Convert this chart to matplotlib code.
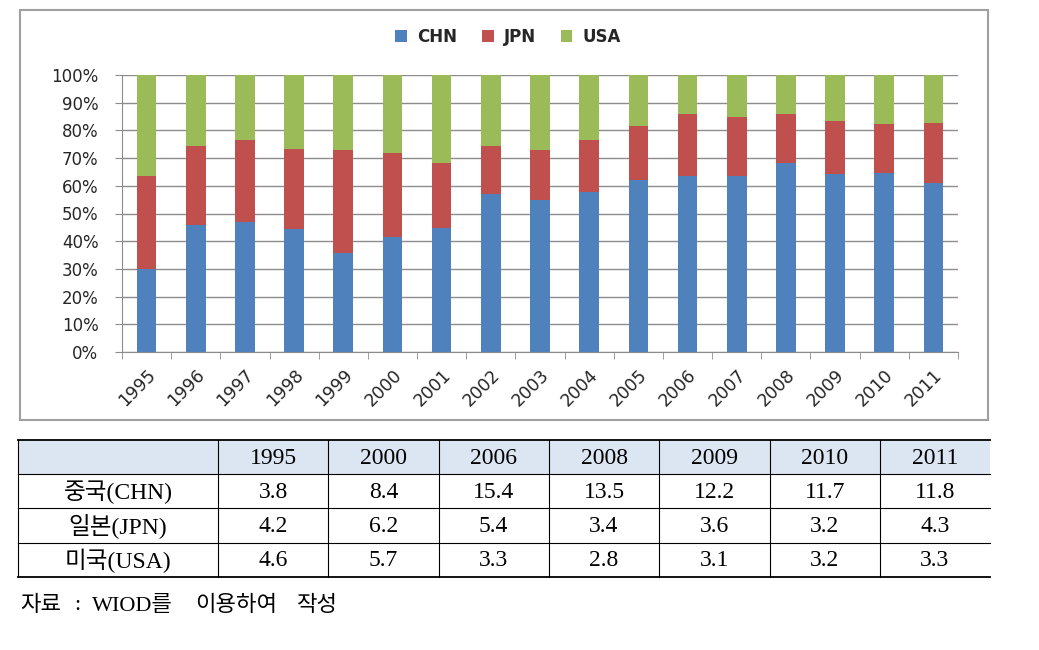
import numpy as np
import matplotlib
matplotlib.use("Agg")
import matplotlib.pyplot as plt
from matplotlib.patches import Rectangle

# ── Data ───────────────────────────────────────────────────────────────────────
YEARS = [str(y) for y in range(1995, 2012)]
CHN = [30.0, 46.0, 47.0, 44.3, 35.7, 41.5, 44.6, 57.0, 54.9, 57.9,
       62.2, 63.6, 63.7, 68.4, 64.4, 64.8, 60.9]
CHN_JPN = [63.7, 74.2, 76.6, 73.4, 73.0, 72.0, 68.4, 74.5, 73.0, 76.6,
           81.7, 85.8, 85.0, 85.9, 83.4, 82.3, 82.8]
JPN = [cj - c for cj, c in zip(CHN_JPN, CHN)]
USA = [100 - cj for cj in CHN_JPN]

TABLE_YEARS = ["1995", "2000", "2006", "2008", "2009", "2010", "2011"]
TABLE_ROWS = ["중국(CHN)", "일본(JPN)", "미국(USA)"]
TABLE_VALUES = [
    ["3.8", "8.4", "15.4", "13.5", "12.2", "11.7", "11.8"],
    ["4.2", "6.2", "5.4", "3.4", "3.6", "3.2", "4.3"],
    ["4.6", "5.7", "3.3", "2.8", "3.1", "3.2", "3.3"],
]
SOURCE_WORDS = ["자료", ":", "WIOD를", "이용하여", "작성"]

# ── Style ──────────────────────────────────────────────────────────────────────
COLOR_CHN = "#4F81BD"
COLOR_JPN = "#C0504D"
COLOR_USA = "#9BBB59"
GRID = "#8C8C8C"
TEXT = "#262626"
HEADER_BG = "#DCE6F2"
SANS = ["DejaVu Sans"]
SERIF = ["Liberation Serif", "Noto Sans CJK KR"]

W, H = 1039, 650
fig = plt.figure(figsize=(W / 100, H / 100), dpi=100)

# overlay axes in pixel coordinates for frame / table / source
ov = fig.add_axes([0, 0, 1, 1])
ov.set_xlim(0, W)
ov.set_ylim(H, 0)
ov.axis("off")

# chart frame
ov.add_patch(Rectangle((20, 10), 968, 410, fill=False, edgecolor="#A0A0A0", linewidth=1.5))

# ── Stacked bar chart ─────────────────────────────────────────────────────────
ax = fig.add_axes([122 / W, 1 - 352 / H, (958 - 122) / W, (352 - 75) / H])
x = np.arange(len(YEARS))
bw = 0.40
ax.bar(x, CHN, bw, color=COLOR_CHN, label="CHN", zorder=3)
ax.bar(x, JPN, bw, bottom=CHN, color=COLOR_JPN, label="JPN", zorder=3)
ax.bar(x, USA, bw, bottom=CHN_JPN, color=COLOR_USA, label="USA", zorder=3)

ax.set_xlim(-0.5, len(YEARS) - 0.5)
ax.set_ylim(0, 100)
ax.set_yticks(np.arange(0, 101, 10))
ax.set_yticklabels([f"{v}%" for v in range(0, 101, 10)], fontsize=12,
                   family=SANS, color=TEXT)
ax.yaxis.grid(True, color=GRID, linewidth=1, zorder=0)
ax.set_axisbelow(True)

ax.set_xticks(x)
ax.set_xticklabels(YEARS, rotation=45, ha="right", rotation_mode="anchor",
                   fontsize=12.5, family=SANS, color=TEXT)
ax.set_xticks(np.arange(-0.5, len(YEARS), 1), minor=True)
ax.tick_params(axis="x", which="major", length=0, pad=10)
ax.tick_params(axis="x", which="minor", length=5, color=GRID)
ax.tick_params(axis="y", length=5, color=GRID, pad=12)
for s in ["top", "right"]:
    ax.spines[s].set_visible(False)
for s in ["left", "bottom"]:
    ax.spines[s].set_color(GRID)

leg = fig.legend(loc="center", bbox_to_anchor=(508 / W, 1 - 37 / H), ncol=3,
                 frameon=False, prop={"family": SANS, "size": 12, "weight": "bold"},
                 handlelength=0.7, handleheight=0.7, handletextpad=0.6,
                 columnspacing=1.5, labelcolor=TEXT)

# ── Table ─────────────────────────────────────────────────────────────────────
col_edges = [18, 218] + [218 + 110.3 * (i + 1) for i in range(len(TABLE_YEARS))]
row_edges = [440, 474, 508, 543, 577]
ov.add_patch(Rectangle((col_edges[0], row_edges[0]), col_edges[-1] - col_edges[0],
                       row_edges[1] - row_edges[0], facecolor=HEADER_BG,
                       edgecolor="none", zorder=1))
for yy in row_edges:
    lw = 1.3 if yy in (row_edges[0], row_edges[-1]) else 0.8
    ov.plot([col_edges[0], col_edges[-1]], [yy, yy], color="black", linewidth=lw, zorder=2)
for xx in col_edges[:-1]:
    ov.plot([xx, xx], [row_edges[0], row_edges[-1]], color="black", linewidth=0.8, zorder=2)

centers = [(a + b) / 2 for a, b in zip(col_edges[:-1], col_edges[1:])]
rcent = [(a + b) / 2 for a, b in zip(row_edges[:-1], row_edges[1:])]
for j, yr in enumerate(TABLE_YEARS):
    ov.text(centers[j + 1], rcent[0] + 1, yr, ha="center", va="center",
            fontsize=17, family=SERIF, zorder=3)
for i, name in enumerate(TABLE_ROWS):
    ov.text(centers[0], rcent[i + 1] + 1, name, ha="center", va="center",
            fontsize=17, family=SERIF, zorder=3)
    for j, val in enumerate(TABLE_VALUES[i]):
        ov.text(centers[j + 1], rcent[i + 1] + 1, val, ha="center", va="center",
                fontsize=17, family=SERIF, zorder=3)

# source line, word by word to mimic the wide spacing
src_x = [20, 74, 92, 195, 297]
for sx, word in zip(src_x, SOURCE_WORDS):
    ov.text(sx, 606, word, ha="left", va="center", fontsize=16,
            family=SERIF, color="black")

fig.savefig("out.png", dpi=100)
plt.close(fig)
